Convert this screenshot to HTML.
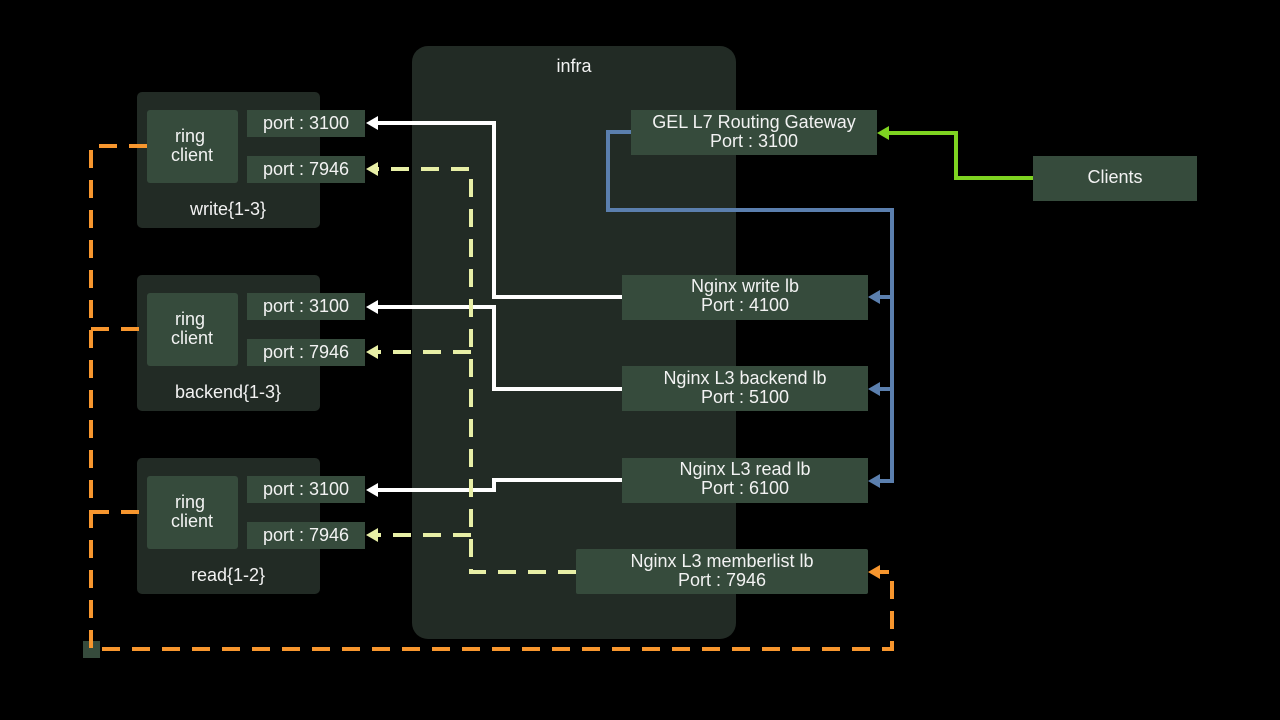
<!DOCTYPE html>
<html><head><meta charset="utf-8"><style>
html,body{margin:0;padding:0;background:#000;}
svg{display:block;}
text{font-family:"Liberation Sans",sans-serif;fill:#f2f2f2;font-size:18px;text-anchor:middle;}
</style></head><body>
<svg width="1280" height="720" viewBox="0 0 1280 720" xmlns="http://www.w3.org/2000/svg">
<rect x="412" y="46" width="324" height="593" rx="16" fill="#222b25"/>
<text x="574" y="72">infra</text>
<g fill="#222b25">
<rect x="137" y="92" width="183" height="136" rx="5"/>
<rect x="137" y="275" width="183" height="136" rx="5"/>
<rect x="137" y="458" width="183" height="136" rx="5"/>
</g>
<g fill="#364b3c">
<rect x="147" y="110" width="91" height="73" rx="3"/>
<rect x="147" y="293" width="91" height="73" rx="3"/>
<rect x="147" y="476" width="91" height="73" rx="3"/>
<rect x="247" y="110" width="118" height="27"/>
<rect x="247" y="156" width="118" height="27"/>
<rect x="247" y="293" width="118" height="27"/>
<rect x="247" y="339" width="118" height="27"/>
<rect x="247" y="476" width="118" height="27"/>
<rect x="247" y="522" width="118" height="27"/>
<rect x="1033" y="156" width="164" height="45"/>
<rect x="83" y="641" width="17" height="17"/>
</g>
<g fill="none" stroke-width="4">
<path d="M622,297 H494 V123 H372" stroke="#fff"/>
<path d="M622,389 H494 V307 H372" stroke="#fff"/>
<path d="M622,480 H494 V490 H372" stroke="#fff"/>
<g stroke="#e8efa6" stroke-dasharray="18,12">
<path d="M576,572 H471 V169 H372"/>
<path d="M471,352 H372"/>
<path d="M471,535 H372"/>
</g>
<path d="M631,132 H608 V210 H892 V481 H876" stroke="#5b7fae"/>
<path d="M892,297 H876" stroke="#5b7fae"/>
<path d="M892,389 H876" stroke="#5b7fae"/>
<path d="M1033,178 H956 V133 H884" stroke="#7ed321"/>
<g stroke="#f7962e" stroke-dasharray="18,12">
<path d="M147,146 H91 V649 H892 V572 H876"/>
<path d="M91,329 H147"/>
<path d="M91,512 H147"/>
</g>
</g>
<!-- arrowheads -->
<g fill="#fff">
<polygon points="366,123 378,116 378,130"/>
<polygon points="366,307 378,300 378,314"/>
<polygon points="366,490 378,483 378,497"/>
</g>
<g fill="#e8efa6">
<polygon points="366,169 378,162 378,176"/>
<polygon points="366,352 378,345 378,359"/>
<polygon points="366,535 378,528 378,542"/>
</g>
<g fill="#5b7fae">
<polygon points="868,297 880,290 880,304"/>
<polygon points="868,389 880,382 880,396"/>
<polygon points="868,481 880,474 880,488"/>
</g>
<polygon points="877,133 889,126 889,140" fill="#7ed321"/>
<polygon points="868,572 880,565 880,579" fill="#f7962e"/>
<g fill="#364b3c">
<rect x="631" y="110" width="246" height="45"/>
<rect x="622" y="275" width="246" height="45"/>
<rect x="622" y="366" width="246" height="45"/>
<rect x="622" y="458" width="246" height="45"/>
<rect x="576" y="549" width="292" height="45" rx="2"/>
</g>
<text x="190" y="142">ring</text><text x="192" y="161">client</text>
<text x="190" y="325">ring</text><text x="192" y="344">client</text>
<text x="190" y="508">ring</text><text x="192" y="527">client</text>
<text x="228" y="215">write{1-3}</text>
<text x="228" y="398">backend{1-3}</text>
<text x="228" y="581">read{1-2}</text>
<text x="306" y="129">port : 3100</text>
<text x="306" y="175">port : 7946</text>
<text x="306" y="312">port : 3100</text>
<text x="306" y="358">port : 7946</text>
<text x="306" y="495">port : 3100</text>
<text x="306" y="541">port : 7946</text>
<text x="754" y="128">GEL L7 Routing Gateway</text><text x="754" y="147">Port : 3100</text>
<text x="745" y="292">Nginx write lb</text><text x="745" y="311">Port : 4100</text>
<text x="745" y="384">Nginx L3 backend lb</text><text x="745" y="403">Port : 5100</text>
<text x="745" y="475">Nginx L3 read lb</text><text x="745" y="494">Port : 6100</text>
<text x="722" y="567">Nginx L3 memberlist lb</text><text x="722" y="586">Port : 7946</text>
<text x="1115" y="183">Clients</text>
</svg>
</body></html>
